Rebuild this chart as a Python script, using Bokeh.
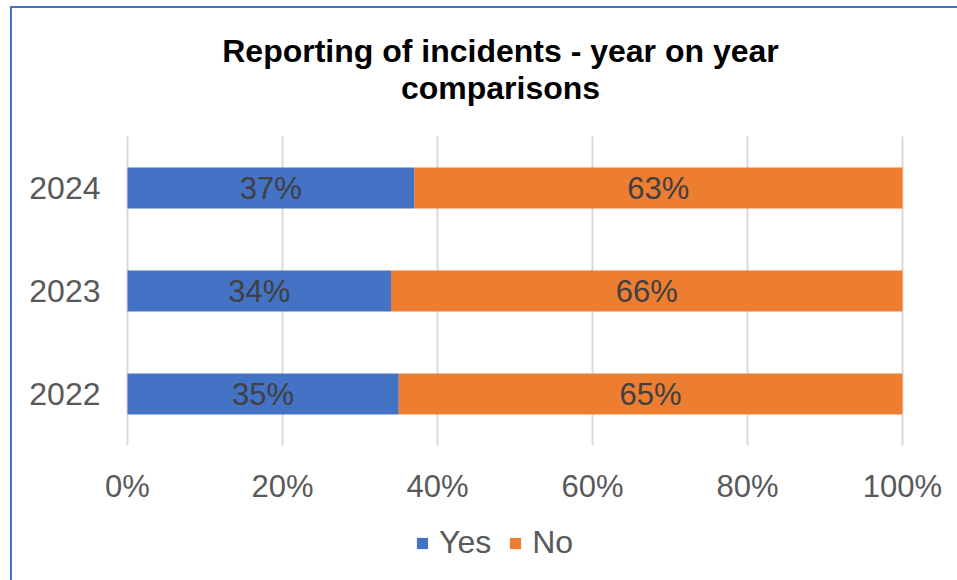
from bokeh.plotting import figure
from bokeh.models import (ColumnDataSource, LabelSet, Label, Legend, LegendItem,
                          LinearAxis, FixedTicker, CustomJSTickFormatter)
from bokeh.core.properties import value
from bokeh.embed import file_html
from bokeh.resources import INLINE

years = ["2022", "2023", "2024"]
yes_vals = [35, 34, 37]
no_vals = [65, 66, 63]
series = ["Yes", "No"]
colors = ["#4472C4", "#ED7D31"]
x_ticks = [0, 20, 40, 60, 80, 100]
title_lines = ["Reporting of incidents - year on year", "comparisons"]

FONT = "Liberation Sans"

# ---- layout constants (pixels) ----
W, H = 957, 580
PX_X0, PX_X100 = 127, 902          # where 0% and 100% sit
PX_ROW0, ROW_STEP = 393.5, 103.0   # centre of first category row, row spacing
ppx = (PX_X100 - PX_X0) / 100.0


def px_x(px):
    return (px - PX_X0) / ppx


def px_y(py):
    return (PX_ROW0 - py) / ROW_STEP


yidx = list(range(len(years)))
source = ColumnDataSource(dict(y=yidx, Yes=yes_vals, No=no_vals))

p = figure(width=W, height=H, title=None,
           x_range=(px_x(0), px_x(W)), y_range=(px_y(H), px_y(0)),
           x_axis_location=None, y_axis_location=None,
           output_backend="svg", toolbar_location=None,
           min_border=0, min_border_left=0, min_border_right=0,
           min_border_top=0, min_border_bottom=0)
p.stylesheets = [
    ":host::after { content: ''; position: absolute; left: 10px; top: 6px; "
    "right: 0; bottom: 0; border-left: 2.5px solid #4472C4; "
    "border-top: 2.5px solid #4472C4; pointer-events: none; z-index: 100; }"
]
p.outline_line_color = None
p.background_fill_color = "white"
p.border_fill_color = "white"
p.grid.visible = False

# vertical gridlines, spanning the category band
n = len(years)
p.segment(x0=x_ticks, x1=x_ticks, y0=[-0.5] * len(x_ticks), y1=[n - 0.5] * len(x_ticks),
          line_color="#D9D9D9", line_width=2)

renderers = p.hbar_stack(series, y="y", height=0.4, color=colors, source=source,
                         line_color=None)

# data labels
yes_c = [v / 2 for v in yes_vals]
no_c = [a + b / 2 for a, b in zip(yes_vals, no_vals)]
lab_src = ColumnDataSource(dict(
    x=yes_c + no_c,
    y=yidx + yidx,
    t=[f"{v}%" for v in yes_vals] + [f"{v}%" for v in no_vals],
))
p.add_layout(LabelSet(x="x", y="y", text="t", source=lab_src,
                      text_align="center", text_baseline="middle",
                      text_font=value(FONT), text_font_size="31px",
                      text_color="#404040"))

# axes, fixed inside the frame
xaxis = LinearAxis(fixed_location=-0.5, ticker=FixedTicker(ticks=x_ticks),
                   formatter=CustomJSTickFormatter(code="return tick + '%';"))
yaxis = LinearAxis(fixed_location=0, ticker=FixedTicker(ticks=yidx),
                   major_label_overrides={i: y for i, y in zip(yidx, years)})
for ax in (xaxis, yaxis):
    ax.axis_line_color = None
    ax.major_tick_line_color = None
    ax.minor_tick_line_color = None
    ax.major_label_text_font = FONT
    ax.major_label_text_color = "#595959"
xaxis.major_label_text_font_size = "31px"
yaxis.major_label_text_font_size = "32px"
xaxis.major_label_standoff = 17
yaxis.major_label_standoff = 21
p.add_layout(xaxis, "below")
p.add_layout(yaxis, "left")

# legend
legend = Legend(items=[LegendItem(label=s, renderers=[r]) for s, r in zip(series, renderers)],
                orientation="horizontal", location=(415, 19),
                glyph_width=14, glyph_height=14, label_standoff=10, spacing=17,
                label_text_font=FONT, label_text_font_size="32px",
                label_text_color="#595959", padding=0, margin=0,
                border_line_color=None, background_fill_alpha=0)
p.add_layout(legend, "center")

# title
for line, py in zip(title_lines, [50, 87]):
    p.add_layout(Label(x=px_x(500), y=px_y(py), text=line,
                       text_align="center", text_baseline="middle",
                       text_font=FONT, text_font_size="32px", text_font_style="bold",
                       text_color="#000000"))

open("out.html", "w").write(file_html(p, INLINE))
